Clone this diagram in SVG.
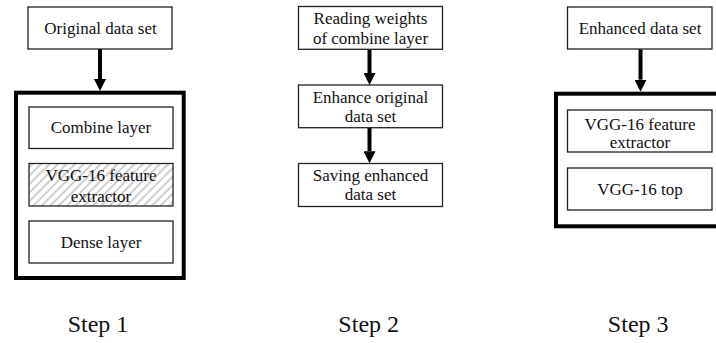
<svg xmlns="http://www.w3.org/2000/svg" width="716" height="343" viewBox="0 0 716 343">
<style>
.box{fill:#fff;stroke:#222;stroke-width:1.3}
.outer{fill:#fff;stroke:#000;stroke-width:4}
.t{font-family:"Liberation Serif","Times New Roman",serif;font-size:17px;fill:#111;text-anchor:middle}
.step{font-family:"Liberation Serif","Times New Roman",serif;font-size:24px;fill:#111;text-anchor:middle}
.conn{stroke:#000;stroke-width:4;fill:none}
</style>
<defs>
<pattern id="hatch" width="6" height="6" patternUnits="userSpaceOnUse" patternTransform="rotate(45)">
<rect width="6" height="6" fill="#fff"/>
<line x1="1" y1="0" x2="1" y2="6" stroke="#cfcfcf" stroke-width="2"/>
</pattern>
<marker id="ah" viewBox="0 0 12 12" markerWidth="12" markerHeight="12" refX="0" refY="6" orient="auto" markerUnits="userSpaceOnUse">
<path d="M0,0 L12,6 L0,12 z" fill="#000"/>
</marker>
</defs>

<g id="step1-outer"><rect class="outer" x="16" y="92.7" width="167.7" height="185.3"/></g>
<g id="step3-outer"><rect class="outer" x="556" y="93.7" width="170" height="132.6"/></g>

<g id="connectors">
<line class="conn" x1="100" y1="49" x2="100" y2="79" marker-end="url(#ah)"/>
<line class="conn" x1="369.5" y1="49.3" x2="369.5" y2="73" marker-end="url(#ah)"/>
<line class="conn" x1="369.5" y1="127.7" x2="369.5" y2="151.3" marker-end="url(#ah)"/>
<line class="conn" x1="640.5" y1="49.3" x2="640.5" y2="79.7" marker-end="url(#ah)"/>
</g>

<g id="original-data-set"><rect class="box" x="28" y="7" width="144" height="42"/><text class="t" x="100.5" y="33.5">Original data set</text></g>
<g id="combine-layer"><rect class="box" x="29" y="107" width="144" height="41.5"/><text class="t" x="101" y="133.3">Combine layer</text></g>
<g id="vgg-feature-1"><rect class="box" x="29" y="163.5" width="144" height="42.5" style="fill:url(#hatch)"/><text class="t" x="101" y="180.5">VGG-16 feature</text><text class="t" x="101" y="201.5">extractor</text></g>
<g id="dense-layer"><rect class="box" x="29" y="221" width="144" height="42"/><text class="t" x="101" y="247.5">Dense layer</text></g>

<g id="reading-weights"><rect class="box" x="298.5" y="6.5" width="144" height="42.8"/><text class="t" x="370.5" y="24">Reading weights</text><text class="t" x="370.5" y="43.5">of combine layer</text></g>
<g id="enhance-original"><rect class="box" x="298.5" y="85" width="144" height="42.7"/><text class="t" x="370.5" y="102.7">Enhance original</text><text class="t" x="370.5" y="121.7">data set</text></g>
<g id="saving-enhanced"><rect class="box" x="298.5" y="163.5" width="144" height="43"/><text class="t" x="370.5" y="180.5">Saving enhanced</text><text class="t" x="370.5" y="200">data set</text></g>

<g id="enhanced-data-set"><rect class="box" x="567.5" y="7" width="144.5" height="42"/><text class="t" x="640" y="33.5">Enhanced data set</text></g>
<g id="vgg-feature-3"><rect class="box" x="567.5" y="110" width="144.5" height="42"/><text class="t" x="640" y="129.5">VGG-16 feature</text><text class="t" x="640" y="148">extractor</text></g>
<g id="vgg-top"><rect class="box" x="567.5" y="168" width="144.5" height="42"/><text class="t" x="640" y="195">VGG-16 top</text></g>

<g id="labels">
<text class="step" x="98" y="331.7">Step 1</text>
<text class="step" x="368.7" y="331.7">Step 2</text>
<text class="step" x="638.2" y="331.7">Step 3</text>
</g>
</svg>
